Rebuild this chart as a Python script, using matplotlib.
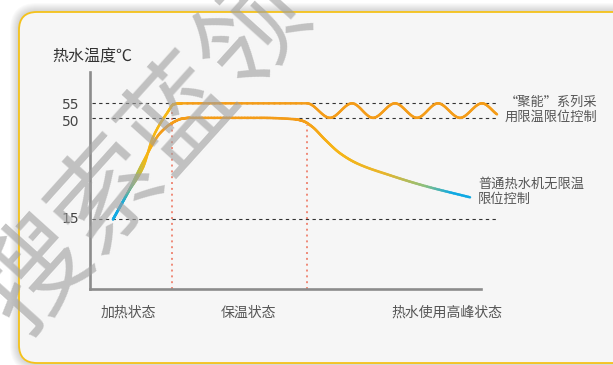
"""
Water temperature curve: "聚能" limit-controlled heater vs ordinary heater.
"""
import numpy as np
import matplotlib
matplotlib.use('Agg')
import matplotlib.pyplot as plt
from matplotlib.collections import LineCollection
from matplotlib.patches import FancyBboxPatch
from matplotlib.bezier import BezierSegment
from matplotlib.colors import to_rgb

plt.rcParams['font.family'] = ['Noto Sans CJK SC', 'DejaVu Sans']

W, H = 613, 365

# time axis has no ticks, arbitrary units
energy_t = [23, 38, 53, 63, 77, 84, 92, 217, 240, 262, 283, 305, 327, 348, 370, 392, 407]
energy_v = [15, 24.3, 32.9, 43.3, 51.6, 54.7, 55, 55, 50, 55, 50, 55, 50, 55, 50, 55, 51.2]

normal_t = [23, 38, 53, 70, 83, 92, 100, 170, 205, 213, 222, 235, 250, 267, 300, 333, 380]
normal_v = [15, 24.3, 34.7, 44.7, 48.4, 49.7, 50, 50, 49.5, 48.9, 47.0, 42.5, 37.8, 34.3, 30.2, 26.7, 22.6]

ref_temps = [55, 50, 15]
ref_labels = ['55', '50', '15']
phase_bounds = [82, 217]
phase_tops = [53.5, 47.5]
phase_labels = ['加热状态', '保温状态', '热水使用高峰状态']

BLUE, GREEN, YELLOW, ORANGE = '#10a9e3', '#8fbf6a', '#f7b814', '#f49c18'
energy_stops = ([23, 32, 44, 56, 82, 98], [BLUE, BLUE, GREEN, YELLOW, YELLOW, ORANGE])
normal_stops = ([23, 32, 44, 56, 72, 212, 245, 295, 335, 362],
                [BLUE, BLUE, GREEN, YELLOW, ORANGE, ORANGE, '#f7b515', '#e8b52c', '#8ec07c', BLUE])


def smooth(t, v, n=24):
    # monotone cubic (keeps plateaus flat), drawn as bezier segments
    t = np.asarray(t, float)
    v = np.asarray(v, float)
    h = np.diff(t)
    d = np.diff(v) / h
    m = np.zeros_like(v)
    m[0], m[-1] = d[0], d[-1]
    for k in range(1, len(t) - 1):
        if d[k - 1] * d[k] > 0:
            w1, w2 = 2 * h[k] + h[k - 1], h[k] + 2 * h[k - 1]
            m[k] = (w1 + w2) / (w1 / d[k - 1] + w2 / d[k])
    pts = []
    for k in range(len(h)):
        cp = np.array([[t[k], v[k]],
                       [t[k] + h[k] / 3, v[k] + m[k] * h[k] / 3],
                       [t[k + 1] - h[k] / 3, v[k + 1] - m[k + 1] * h[k] / 3],
                       [t[k + 1], v[k + 1]]])
        seg = BezierSegment(cp)(np.linspace(0, 1, n))
        pts.append(seg if k == 0 else seg[1:])
    return np.vstack(pts)


def gradient_line(ax, t, v, stops, lw=1.8, z=4):
    pts = smooth(t, v)
    segs = np.stack([pts[:-1], pts[1:]], axis=1)
    mid = (pts[:-1, 0] + pts[1:, 0]) / 2
    rgb = np.array([to_rgb(c) for c in stops[1]])
    cols = np.column_stack([np.interp(mid, stops[0], rgb[:, i]) for i in range(3)])
    lc = LineCollection(segs, colors=cols, linewidths=lw, capstyle='round',
                        joinstyle='round', zorder=z, clip_on=False, snap=False)
    ax.add_collection(lc)


fig = plt.figure(figsize=(W / 100, H / 100), dpi=100, facecolor='white')

# card background with soft shadow
bg = fig.add_axes([0, 0, 1, 1], zorder=-5)
bg.set_xlim(0, W)
bg.set_ylim(0, H)
bg.axis('off')
for k in range(9, 0, -1):
    bg.add_patch(FancyBboxPatch((19 - k, 2 - k), 640 + 2 * k, 351 + 2 * k,
                                boxstyle=f'round,pad=0,rounding_size={18 + k}',
                                fc='black', ec='none', alpha=0.018))
bg.add_patch(FancyBboxPatch((19, 2), 640, 351, boxstyle='round,pad=0,rounding_size=18',
                            fc='#f6f6f6', ec='#f5c21a', lw=1.3))

ax = fig.add_axes([90 / W, (H - 289) / H, 410 / W, 217 / H])
ax.patch.set_alpha(0)
ax.set_xlim(0, 410)
ax.set_ylim(-9.0, 65.8)
for s in ['top', 'right']:
    ax.spines[s].set_visible(False)
for s in ['left', 'bottom']:
    ax.spines[s].set_color('#8c8c8c')
    ax.spines[s].set_linewidth(1.9)
ax.spines['bottom'].set_bounds(0, 391)
ax.set_xticks([])
ax.set_yticks([])

for temp in ref_temps:
    ax.plot([2, 407], [temp, temp], color='#333333', lw=0.8, dashes=(3, 3), zorder=2)

label_y = [54.3, 48.7, 15.2]
for lab, y in zip(ref_labels, label_y):
    ax.text(-11, y, lab, ha='right', va='center', fontsize=10, color='#444444',
            family=['Liberation Sans Narrow', 'DejaVu Sans'])

for x, top in zip(phase_bounds, phase_tops):
    ax.plot([x, x], [-9.0, top], color='#ef8a78', lw=1.4, dashes=(1, 2), zorder=1)

gradient_line(ax, energy_t, energy_v, energy_stops)
gradient_line(ax, normal_t, normal_v, normal_stops, z=5)

def ftext(x, y, s, **kw):
    fig.text(x / W, 1 - y / H, s, **kw)

ftext(52, 57, '热水温度℃', fontsize=11.5, color='#333333', va='center')
for x, lab in zip([128, 248, 447], phase_labels):
    ftext(x, 313, lab, fontsize=10, color='#555555', ha='center', va='center')

ftext(505, 110, '“聚能”系列采\n用限温限位控制', fontsize=9.5, color='#555555',
      va='center', linespacing=1.25)
ftext(478, 192, '普通热水机无限温\n限位控制', fontsize=9.5, color='#555555',
      va='center', linespacing=1.25)

# watermark, partly off the card as in the source image
ftext(145, 155, '搜索蓝领', fontsize=78, color='#a0a0a0', alpha=0.62, rotation=48,
      ha='center', va='center', zorder=10)

fig.savefig('out.png', dpi=100, facecolor='white')
